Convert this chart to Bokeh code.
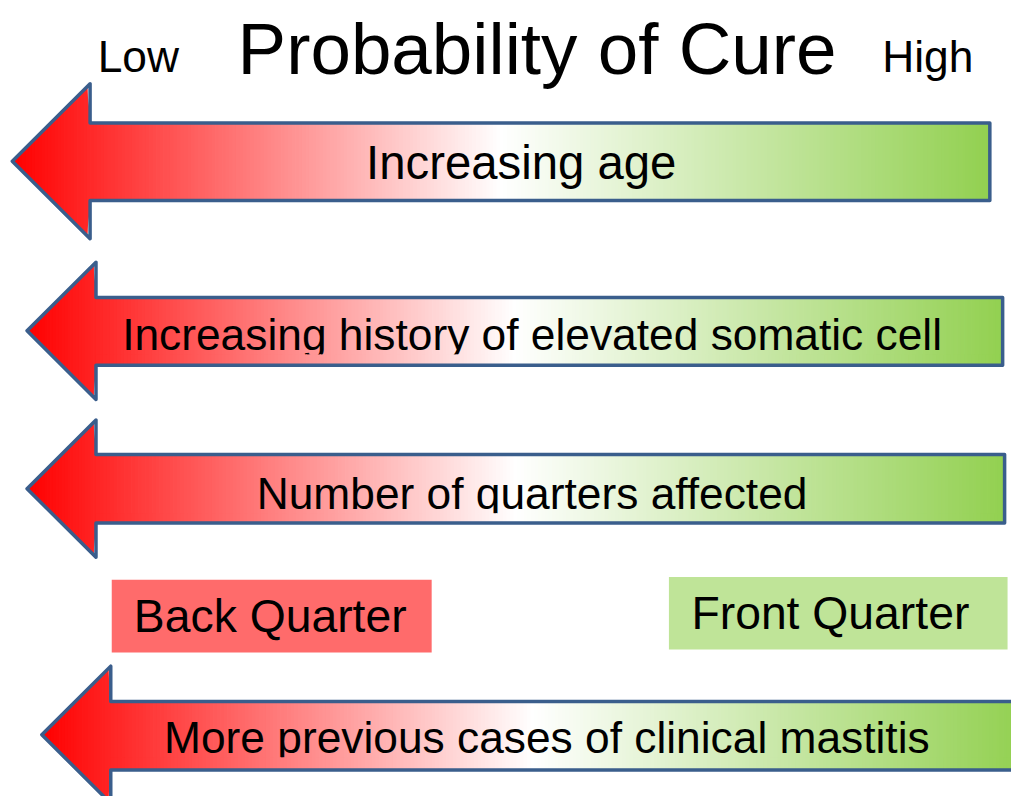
import numpy as np
from bokeh.plotting import figure
from bokeh.models import Range1d
from bokeh.core.properties import value
from bokeh.embed import file_html
from bokeh.resources import INLINE

# ---------------- data (texts and colours) ----------------
scale_labels = ["Low", "Probability of Cure", "High"]
arrow_labels = [
    "Increasing age",
    "Increasing history of elevated somatic cell",
    "Number of quarters affected",
    "More previous cases of clinical mastitis",
]
box_labels = ["Back Quarter", "Front Quarter"]
box_colors = ["#FF6B6B", "#BFE498"]
gradient_stop_pos = [0.0, 0.5, 1.0]
gradient_stop_colors = ["#FF0000", "#FFFFFF", "#92D050"]
outline_color = "#3A5E8C"

# ---------------- layout (reference pixel coordinates) ----------------
FONT = value("Liberation Sans")
REF_W, REF_H = 1027, 812
W, H = 1011, 796
S = W / REF_W            # screen px per reference px
BASE_SHIFT = 0.36        # empirical correction of the alphabetic baseline (em)


def fs(px):
    return "%.1fpx" % (px * S)


scale_pos = [(140, 73, 45), (545, 76, 74), (942, 73, 45)]
# tip_x, tip_y, head_x, head_top, head_bot, body_top, body_bot, right_x
arrow_geom = [
    (12, 164, 91, 85, 243, 125, 204, 1005),
    (27, 337, 97, 267, 407, 303, 372, 1018),
    (27, 498, 97, 428, 568, 463, 533, 1020),
    (42, 749, 112, 679, 819, 715, 785, 1040),
]
# text centre x, baseline y, font size, clip y (None = not clipped)
arrow_text = [
    (529, 183, 48, None),
    (540, 357, 45, 361),
    (540, 519, 45, 523),
    (555, 768, 45, 772),
]
box_geom = [(113, 438, 591, 665), (679, 1023, 588, 662)]
box_text = [(274, 645, 47), (843, 642, 47)]

p = figure(width=W, height=H, x_range=Range1d(0, REF_W), y_range=Range1d(REF_H, 0),
           output_backend="svg", toolbar_location=None, min_border=0,
           x_axis_location=None, y_axis_location=None)
p.grid.visible = False
p.outline_line_color = None
p.background_fill_color = "white"
p.border_fill_color = "white"

stop_rgb = np.array([[int(c[i:i + 2], 16) for i in (1, 3, 5)] for c in gradient_stop_colors], float)


def grad(t):
    t = np.clip(t, 0, 1)
    r, g, b = (int(round(np.interp(t, gradient_stop_pos, stop_rgb[:, k]))) for k in range(3))
    return "#%02X%02X%02X" % (r, g, b)


def label(x, y, size, text):
    p.text(x=[x], y=[y - BASE_SHIFT * size], text=[text], text_font=FONT, text_font_size=fs(size),
           text_align="center", text_baseline="alphabetic", text_color="black")


# title row
for (x, y, size), lab in zip(scale_pos, scale_labels):
    label(x, y, size, lab)

# arrows
for geom, (tx, ty, tsize, clip), lab in zip(arrow_geom, arrow_text, arrow_labels):
    tip_x, tip_y, hx, htop, hbot, btop, bbot, rx = geom
    span = rx - tip_x

    def top(x):
        return tip_y - (x - tip_x) * (tip_y - htop) / (hx - tip_x)

    def bot(x):
        return tip_y + (x - tip_x) * (hbot - tip_y) / (hx - tip_x)

    xs_l, ys_l, cols = [], [], []
    he = np.linspace(tip_x, hx, 25)
    for a, b in zip(he[:-1], he[1:]):
        bb = b + 0.8
        xs_l.append([a, bb, bb, a])
        ys_l.append([top(a), top(bb) if bb <= hx else btop, bot(bb) if bb <= hx else bbot, bot(a)])
        cols.append(grad(((a + b) / 2 - tip_x) / span))
    be = np.linspace(hx, rx, 260)
    body_l, body_r, body_c = [], [], []
    for i, (a, b) in enumerate(zip(be[:-1], be[1:])):
        bb = b + 0.8 if i < len(be) - 2 else b
        xs_l.append([a, bb, bb, a])
        ys_l.append([btop, btop, bbot, bbot])
        c = grad(((a + b) / 2 - tip_x) / span)
        cols.append(c)
        body_l.append(a)
        body_r.append(bb)
        body_c.append(c)
    p.patches(xs=xs_l, ys=ys_l, fill_color=cols, line_color=None)

    label(tx, ty, tsize, lab)

    if clip is not None:
        p.quad(left=body_l, right=body_r, top=[clip] * len(body_l), bottom=[bbot] * len(body_l),
               fill_color=body_c, line_color=None)

    ox = [tip_x, hx, hx, rx, rx, hx, hx]
    oy = [tip_y, htop, btop, btop, bbot, bbot, hbot]
    p.patch(x=ox, y=oy, fill_color=None, line_color=outline_color, line_width=3.5,
            line_join="round")

# quarter boxes
for (l, r, t, b), col, (tx, ty, tsize), lab in zip(box_geom, box_colors, box_text, box_labels):
    p.quad(left=[l], right=[r], top=[t], bottom=[b], fill_color=col, line_color=None)
    label(tx, ty, tsize, lab)

open("out.html", "w").write(file_html(p, INLINE))
